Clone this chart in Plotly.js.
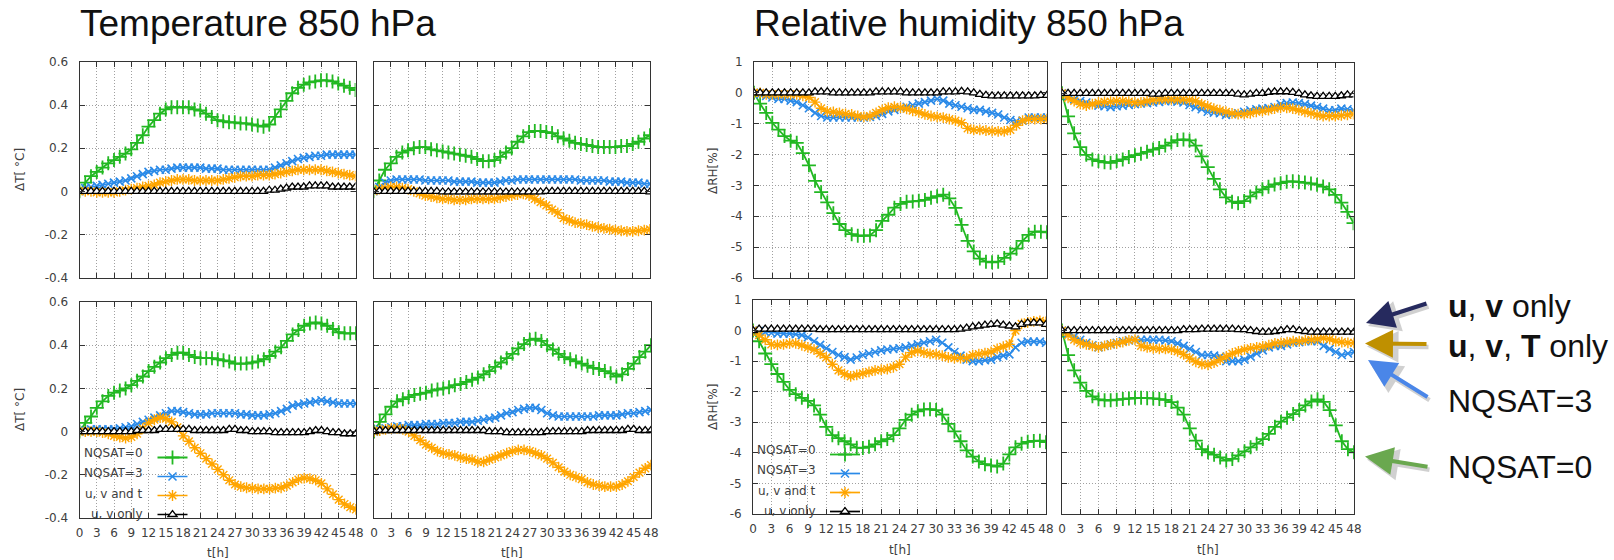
<!DOCTYPE html>
<html><head><meta charset="utf-8">
<script src="https://cdn.plot.ly/plotly-3.0.1.min.js"></script>
<style>html,body{margin:0;padding:0;background:#fff}#chart{width:1614px;height:560px}</style>
</head><body><div id="chart"></div><script>
const W = 1614, H = 560;

const hours = [0,1,2,3,4,5,6,7,8,9,10,11,12,13,14,15,16,17,18,19,20,21,22,23,24,25,26,27,28,29,30,31,32,33,34,35,36,37,38,39,40,41,42,43,44,45,46,47,48];
const xTickVals = [0,3,6,9,12,15,18,21,24,27,30,33,36,39,42,45,48];
const seriesNames = ['NQSAT=0','NQSAT=3','u, v and t','u, v only'];
const tempTickVals = [-0.4,-0.2,0,0.2,0.4,0.6];
const tempTickText = ['-0.4','-0.2','0','0.2','0.4','0.6'];
const rhTickVals = [-6,-5,-4,-3,-2,-1,0,1];
const rhTickText = ['-6','-5','-4','-3','-2','-1','0','1'];

// Temperature 850 hPa, top-left panel
const tempA_nq0 = [0,0.04,0.07,0.09,0.11,0.13,0.145,0.16,0.175,0.195,0.225,0.26,0.30,0.33,0.36,0.38,0.39,0.39,0.39,0.39,0.38,0.375,0.36,0.345,0.33,0.325,0.32,0.32,0.315,0.315,0.31,0.305,0.30,0.31,0.345,0.38,0.42,0.455,0.48,0.495,0.505,0.51,0.515,0.515,0.51,0.50,0.49,0.48,0.47];
const tempA_nq3 = [0,0.015,0.02,0.025,0.03,0.035,0.04,0.045,0.05,0.06,0.07,0.08,0.09,0.095,0.1,0.1,0.105,0.11,0.11,0.11,0.11,0.11,0.105,0.105,0.105,0.1,0.1,0.1,0.1,0.1,0.1,0.1,0.1,0.1,0.11,0.12,0.13,0.14,0.15,0.155,0.16,0.165,0.165,0.17,0.17,0.17,0.17,0.17,0.17];
const tempA_uvt = [0,0,0,-0.005,-0.005,-0.005,-0.005,0,0.005,0.01,0.015,0.02,0.025,0.03,0.04,0.045,0.05,0.055,0.055,0.055,0.05,0.05,0.05,0.05,0.05,0.055,0.06,0.065,0.07,0.07,0.07,0.075,0.075,0.075,0.08,0.085,0.09,0.095,0.1,0.1,0.1,0.1,0.1,0.095,0.09,0.085,0.08,0.075,0.07];
const tempA_uv  = [0,0,0,0,0,0,0,0,0,0,0,0,0,0,0,0,0,0,0,0,0,0,0,0,0,0,0,0,0,0,0,0,0,0.005,0.005,0.01,0.015,0.02,0.02,0.02,0.025,0.025,0.025,0.025,0.02,0.02,0.02,0.02,0.02];
// Temperature, top-right panel
const tempB_nq0 = [0,0.05,0.1,0.13,0.16,0.18,0.19,0.2,0.205,0.205,0.195,0.19,0.185,0.18,0.175,0.17,0.165,0.16,0.15,0.14,0.14,0.145,0.16,0.18,0.2,0.23,0.255,0.275,0.28,0.28,0.275,0.27,0.255,0.245,0.235,0.225,0.22,0.215,0.21,0.205,0.205,0.205,0.205,0.21,0.21,0.22,0.23,0.245,0.26];
const tempB_nq3 = [0,0.02,0.04,0.05,0.055,0.055,0.055,0.055,0.055,0.05,0.05,0.05,0.05,0.05,0.045,0.045,0.045,0.045,0.04,0.04,0.04,0.04,0.045,0.05,0.05,0.055,0.055,0.055,0.055,0.055,0.055,0.055,0.055,0.055,0.055,0.055,0.05,0.05,0.05,0.05,0.05,0.045,0.045,0.045,0.04,0.04,0.04,0.035,0.035];
const tempB_uvt = [0,0.01,0.015,0.02,0.02,0.015,0.01,0,-0.01,-0.02,-0.025,-0.03,-0.035,-0.035,-0.04,-0.04,-0.04,-0.035,-0.035,-0.035,-0.035,-0.035,-0.03,-0.025,-0.02,-0.015,-0.012,-0.02,-0.035,-0.05,-0.065,-0.085,-0.1,-0.125,-0.135,-0.145,-0.15,-0.155,-0.163,-0.168,-0.172,-0.176,-0.18,-0.183,-0.186,-0.186,-0.183,-0.18,-0.177];
const tempB_uv  = [0,0,0,0,0,0,0,0,0,0,0,0,-0.003,-0.003,-0.003,-0.003,-0.003,-0.003,-0.003,-0.003,-0.003,-0.003,-0.003,-0.003,-0.003,-0.003,-0.003,-0.003,-0.003,-0.003,0,0,0,0,0,0,0,0,0,0,0,0,0,0,0,0,0,0,-0.003];
// Temperature, bottom-left panel
const tempC_nq0 = [0,0.04,0.07,0.11,0.14,0.165,0.18,0.19,0.2,0.215,0.235,0.255,0.28,0.3,0.32,0.34,0.355,0.365,0.365,0.355,0.345,0.34,0.34,0.34,0.335,0.33,0.325,0.315,0.315,0.315,0.32,0.325,0.335,0.35,0.37,0.39,0.42,0.45,0.47,0.49,0.5,0.505,0.5,0.49,0.475,0.46,0.455,0.455,0.455];
const tempC_nq3 = [0,0.005,0.01,0.01,0.01,0.01,0.01,0.015,0.02,0.025,0.035,0.045,0.055,0.065,0.075,0.085,0.095,0.095,0.09,0.085,0.08,0.08,0.08,0.085,0.085,0.085,0.085,0.085,0.08,0.08,0.075,0.075,0.075,0.08,0.085,0.095,0.105,0.12,0.125,0.13,0.135,0.14,0.145,0.14,0.135,0.13,0.13,0.13,0.13];
const tempC_uvt = [0,0,0,0,-0.005,-0.01,-0.02,-0.025,-0.03,-0.025,-0.01,0.015,0.04,0.055,0.065,0.06,0.045,0.02,-0.02,-0.045,-0.075,-0.1,-0.125,-0.15,-0.175,-0.2,-0.225,-0.245,-0.255,-0.26,-0.262,-0.265,-0.265,-0.265,-0.262,-0.26,-0.25,-0.235,-0.222,-0.215,-0.218,-0.225,-0.24,-0.265,-0.29,-0.315,-0.335,-0.35,-0.36];
const tempC_uv  = [0,0,0,0,0,0,0,0,0,0,0.005,0.005,0.005,0.005,0.01,0.01,0.01,0.01,0.01,0.01,0.005,0.005,0.005,0.005,0.005,0.005,0.01,0.01,0.005,0.005,0,0,0,0,-0.005,-0.005,-0.005,-0.005,-0.005,-0.005,0,0.005,0.005,0,-0.005,-0.005,-0.01,-0.01,-0.01];
// Temperature, bottom-right panel
const tempD_nq0 = [0,0.045,0.08,0.115,0.14,0.15,0.16,0.17,0.175,0.18,0.19,0.195,0.2,0.205,0.215,0.22,0.23,0.24,0.25,0.265,0.28,0.3,0.32,0.34,0.36,0.385,0.405,0.425,0.43,0.42,0.4,0.38,0.36,0.345,0.335,0.325,0.315,0.305,0.295,0.29,0.28,0.27,0.255,0.265,0.29,0.315,0.345,0.37,0.4];
const tempD_nq3 = [0,0.01,0.015,0.02,0.025,0.025,0.03,0.03,0.03,0.035,0.035,0.035,0.04,0.04,0.04,0.045,0.045,0.045,0.05,0.055,0.06,0.065,0.075,0.085,0.09,0.1,0.105,0.11,0.11,0.1,0.085,0.075,0.07,0.07,0.07,0.07,0.07,0.07,0.07,0.075,0.075,0.075,0.075,0.08,0.085,0.085,0.09,0.095,0.1];
const tempD_uvt = [0,0.005,0.01,0.015,0.015,0.01,0,-0.02,-0.04,-0.06,-0.075,-0.09,-0.1,-0.105,-0.11,-0.12,-0.125,-0.13,-0.14,-0.14,-0.13,-0.12,-0.11,-0.1,-0.09,-0.085,-0.085,-0.09,-0.1,-0.11,-0.125,-0.145,-0.165,-0.185,-0.2,-0.21,-0.22,-0.235,-0.245,-0.25,-0.255,-0.255,-0.255,-0.245,-0.23,-0.21,-0.19,-0.17,-0.155];
const tempD_uv  = [0,0.005,0.005,0.005,0.005,0.005,0.005,0.005,0.005,0.005,0.005,0.005,0.005,0.005,0.005,0.005,0.005,0.005,0.005,0.005,0,0,0,-0.005,-0.005,-0.005,-0.005,-0.005,-0.005,-0.005,0,0,0,0,0,0,0,0.005,0.005,0.005,0.005,0.005,0.005,0.005,0.01,0.01,0.005,0.005,0.005];

// Relative humidity 850 hPa, top-left panel
const rhA_nq0 = [0,-0.35,-0.65,-0.97,-1.19,-1.4,-1.55,-1.62,-1.95,-2.35,-2.85,-3.22,-3.55,-3.9,-4.25,-4.45,-4.58,-4.63,-4.63,-4.62,-4.45,-4.15,-3.95,-3.72,-3.6,-3.53,-3.52,-3.5,-3.47,-3.4,-3.35,-3.3,-3.42,-3.73,-4.28,-4.8,-5.14,-5.37,-5.47,-5.49,-5.47,-5.35,-5.21,-5.05,-4.8,-4.6,-4.5,-4.5,-4.52];
const rhA_nq3 = [0,-0.05,-0.1,-0.15,-0.2,-0.2,-0.25,-0.3,-0.4,-0.5,-0.65,-0.75,-0.8,-0.8,-0.8,-0.8,-0.8,-0.8,-0.8,-0.78,-0.75,-0.68,-0.6,-0.55,-0.5,-0.45,-0.4,-0.35,-0.3,-0.25,-0.2,-0.25,-0.35,-0.4,-0.45,-0.5,-0.55,-0.55,-0.6,-0.65,-0.7,-0.8,-0.88,-0.92,-0.9,-0.8,-0.8,-0.8,-0.8];
const rhA_uvt = [0,0,-0.05,-0.05,-0.05,-0.05,-0.05,-0.05,-0.1,-0.15,-0.3,-0.5,-0.6,-0.62,-0.65,-0.68,-0.7,-0.75,-0.78,-0.75,-0.65,-0.55,-0.48,-0.45,-0.48,-0.52,-0.58,-0.63,-0.7,-0.75,-0.78,-0.8,-0.85,-0.9,-0.97,-1.15,-1.2,-1.2,-1.22,-1.24,-1.25,-1.25,-1.2,-1.05,-0.9,-0.85,-0.85,-0.85,-0.85];
const rhA_uv  = [0,0,0,0,0,0,0,0,0,0,0.03,0.03,0.03,0,0,0,0,0,0,0,0.03,0.03,0.03,0.03,0.03,0,0,0,0,0,0,0.03,0.03,0.03,0.05,0.03,0,-0.05,-0.08,-0.1,-0.1,-0.1,-0.1,-0.1,-0.1,-0.1,-0.1,-0.08,-0.08];
// Relative humidity, top-right panel
const rhB_nq0 = [0,-0.75,-1.3,-1.75,-2.0,-2.15,-2.2,-2.24,-2.26,-2.2,-2.15,-2.07,-2.01,-1.96,-1.9,-1.83,-1.78,-1.7,-1.6,-1.52,-1.5,-1.53,-1.7,-2.05,-2.4,-2.78,-3.12,-3.38,-3.52,-3.57,-3.5,-3.35,-3.22,-3.12,-3.04,-2.96,-2.92,-2.87,-2.86,-2.88,-2.9,-2.93,-2.97,-3.03,-3.12,-3.3,-3.55,-3.85,-4.22];
const rhB_nq3 = [0,-0.1,-0.2,-0.25,-0.3,-0.35,-0.4,-0.42,-0.45,-0.42,-0.4,-0.38,-0.35,-0.33,-0.32,-0.3,-0.28,-0.26,-0.25,-0.27,-0.3,-0.38,-0.45,-0.52,-0.6,-0.63,-0.65,-0.7,-0.68,-0.65,-0.6,-0.55,-0.52,-0.5,-0.48,-0.45,-0.35,-0.32,-0.3,-0.32,-0.35,-0.4,-0.45,-0.5,-0.55,-0.55,-0.5,-0.52,-0.55];
const rhB_uvt = [0,-0.15,-0.25,-0.35,-0.4,-0.35,-0.3,-0.28,-0.27,-0.25,-0.25,-0.27,-0.3,-0.3,-0.25,-0.22,-0.2,-0.2,-0.2,-0.2,-0.2,-0.22,-0.25,-0.35,-0.42,-0.5,-0.55,-0.6,-0.65,-0.68,-0.68,-0.65,-0.6,-0.58,-0.55,-0.5,-0.47,-0.47,-0.5,-0.55,-0.6,-0.65,-0.7,-0.74,-0.74,-0.74,-0.72,-0.7,-0.68];
const rhB_uv  = [0,0,0,0,0,0,0,0,0,0,0,0,0,0,0,-0.03,-0.03,0,0,0,0,0,0,0,0,0,0,0,0,-0.03,-0.05,-0.03,0,0,0.03,0.05,0.05,0.05,0.03,0,-0.05,-0.08,-0.1,-0.1,-0.1,-0.1,-0.08,-0.05,-0.05];
// Relative humidity, bottom-left panel
const rhC_nq0 = [0,-0.35,-0.75,-1.1,-1.42,-1.68,-1.94,-2.08,-2.2,-2.3,-2.45,-2.75,-3.15,-3.42,-3.52,-3.62,-3.72,-3.83,-3.84,-3.8,-3.72,-3.62,-3.55,-3.42,-3.2,-2.92,-2.75,-2.64,-2.58,-2.57,-2.6,-2.75,-3.05,-3.3,-3.62,-3.92,-4.12,-4.28,-4.37,-4.41,-4.45,-4.35,-4.05,-3.82,-3.7,-3.64,-3.61,-3.6,-3.65];
const rhC_nq3 = [0,-0.02,-0.05,-0.08,-0.1,-0.1,-0.1,-0.12,-0.15,-0.22,-0.35,-0.47,-0.58,-0.7,-0.8,-0.87,-0.95,-0.88,-0.8,-0.75,-0.7,-0.65,-0.62,-0.6,-0.58,-0.55,-0.5,-0.45,-0.4,-0.35,-0.3,-0.4,-0.55,-0.7,-0.82,-0.95,-1.0,-1.0,-0.97,-0.95,-0.87,-0.82,-0.78,-0.55,-0.4,-0.36,-0.36,-0.36,-0.4];
const rhC_uvt = [0,-0.15,-0.3,-0.45,-0.47,-0.45,-0.42,-0.42,-0.48,-0.55,-0.62,-0.75,-0.88,-1.1,-1.3,-1.42,-1.5,-1.45,-1.4,-1.35,-1.3,-1.28,-1.26,-1.2,-1.1,-0.87,-0.72,-0.66,-0.72,-0.76,-0.78,-0.82,-0.88,-0.9,-0.9,-0.9,-0.8,-0.77,-0.74,-0.7,-0.6,-0.53,-0.45,0,0.22,0.27,0.3,0.32,0.28];
const rhC_uv  = [0,0.05,0.05,0.05,0.05,0.05,0.05,0.05,0.05,0.05,0.05,0.03,0.03,0.03,0.03,0.03,0.03,0.03,0.03,0.03,0.03,0.03,0.03,0.03,0.03,0.03,0.03,0.03,0.03,0.03,0.03,0.03,0.03,0.03,0.05,0.08,0.12,0.15,0.18,0.2,0.22,0.18,0.15,0.12,0.2,0.25,0.25,0.25,0.2];
// Relative humidity, bottom-right panel
const rhD_nq0 = [0,-0.8,-1.3,-1.7,-1.97,-2.15,-2.25,-2.28,-2.28,-2.26,-2.24,-2.22,-2.2,-2.2,-2.21,-2.22,-2.24,-2.27,-2.34,-2.52,-2.75,-3.2,-3.6,-3.88,-3.98,-4.06,-4.15,-4.25,-4.2,-4.08,-3.95,-3.82,-3.7,-3.55,-3.38,-3.15,-2.98,-2.85,-2.73,-2.6,-2.45,-2.32,-2.25,-2.33,-2.6,-3.1,-3.62,-3.88,-3.98];
const rhD_nq3 = [0,-0.1,-0.2,-0.3,-0.4,-0.48,-0.55,-0.5,-0.45,-0.4,-0.35,-0.32,-0.3,-0.3,-0.3,-0.3,-0.3,-0.32,-0.35,-0.42,-0.5,-0.6,-0.7,-0.8,-0.8,-0.82,-0.85,-1.0,-1.0,-1.0,-0.95,-0.85,-0.75,-0.65,-0.55,-0.5,-0.5,-0.45,-0.4,-0.38,-0.35,-0.35,-0.35,-0.5,-0.6,-0.7,-0.8,-0.75,-0.7];
const rhD_uvt = [0,-0.15,-0.3,-0.4,-0.45,-0.5,-0.55,-0.5,-0.45,-0.42,-0.38,-0.32,-0.3,-0.5,-0.55,-0.58,-0.6,-0.6,-0.62,-0.68,-0.78,-0.9,-1.02,-1.1,-1.12,-1.05,-0.95,-0.85,-0.75,-0.68,-0.62,-0.58,-0.55,-0.52,-0.48,-0.42,-0.4,-0.38,-0.35,-0.35,-0.32,-0.3,-0.28,-0.25,-0.28,-0.35,-0.38,-0.4,-0.4];
const rhD_uv  = [0,0,0,0,0,0,0,0,0,0,0,0,0,0,0,0,0,0,0,0,0.03,0.03,0.03,0.05,0.05,0.05,0.05,0.05,0.05,0.03,0.03,0,-0.03,-0.05,-0.05,-0.03,0,0.03,0.03,0,-0.03,-0.05,-0.05,-0.05,-0.05,-0.05,-0.05,-0.05,-0.05];

const styles = [
  {color:'#22b822', symbol:'cross-thin', size:10, fill:null, lw:1.8, mlw:1.8},
  {color:'#2a8ae8', symbol:'x-thin', size:8, fill:null, lw:1.7, mlw:1.6},
  {color:'#ffa500', symbol:'asterisk', size:9, fill:null, lw:1.7, mlw:1.4},
  {color:'#000000', symbol:'triangle-up', size:8, fill:'#ffffff', lw:1.7, mlw:1.3}
];

const panels = [
  {vals:[tempA_nq0,tempA_nq3,tempA_uvt,tempA_uv], L:79.5, R:355.5, T:62, B:277.5, kind:'t', left:true,  bottom:false},
  {vals:[tempB_nq0,tempB_nq3,tempB_uvt,tempB_uv], L:373.5,R:650,   T:62, B:277.5, kind:'t', left:false, bottom:false},
  {vals:[tempC_nq0,tempC_nq3,tempC_uvt,tempC_uv], L:79.5, R:356,   T:302,B:518,   kind:'t', left:true,  bottom:true, legend:'legend'},
  {vals:[tempD_nq0,tempD_nq3,tempD_uvt,tempD_uv], L:374,  R:651,   T:302,B:518,   kind:'t', left:false, bottom:true},
  {vals:[rhA_nq0,rhA_nq3,rhA_uvt,rhA_uv], L:754,  R:1047,  T:62, B:278, kind:'rh', left:true,  bottom:false},
  {vals:[rhB_nq0,rhB_nq3,rhB_uvt,rhB_uv], L:1062, R:1353.5,T:62.5,B:278, kind:'rh', left:false, bottom:false},
  {vals:[rhC_nq0,rhC_nq3,rhC_uvt,rhC_uv], L:753,  R:1046,  T:300,B:514, kind:'rh', left:true,  bottom:true, legend:'legend2'},
  {vals:[rhD_nq0,rhD_nq3,rhD_uvt,rhD_uv], L:1062, R:1354,  T:300,B:514, kind:'rh', left:false, bottom:true}
];

const tickFont = {family:'DejaVu Sans', size:12, color:'#404040'};
const data = [];
const layout = {
  width: W, height: H, margin:{l:0,r:0,t:0,b:0},
  paper_bgcolor:'#ffffff', plot_bgcolor:'#ffffff',
  showlegend:true, annotations:[], shapes:[],
  font:{family:'DejaVu Sans', size:12, color:'#404040'}
};

panels.forEach((p, i) => {
  const n = i + 1;
  const xa = n === 1 ? 'x' : 'x' + n;
  const ya = n === 1 ? 'y' : 'y' + n;
  const xKey = n === 1 ? 'xaxis' : 'xaxis' + n;
  const yKey = n === 1 ? 'yaxis' : 'yaxis' + n;
  const common = {
    showline:true, linecolor:'#333333', linewidth:1, mirror:'ticks',
    ticks:'inside', ticklen:5, tickcolor:'#333333', tickwidth:1,
    showgrid:true, gridcolor:'#a0a0a0', gridwidth:1, griddash:'1px,2px',
    zeroline:false, tickfont:tickFont, fixedrange:true
  };
  layout[xKey] = Object.assign({}, common, {
    domain:[p.L/W, p.R/W], anchor:ya, range:[0,48],
    tickmode:'array', tickvals:xTickVals, ticktext:xTickVals.map(String),
    tickangle:0, showticklabels:p.bottom, ticklabelstandoff:4
  });
  layout[yKey] = Object.assign({}, common, {
    domain:[1 - p.B/H, 1 - p.T/H], anchor:xa,
    range: p.kind === 't' ? [-0.4,0.6] : [-6,1],
    tickmode:'array',
    tickvals: p.kind === 't' ? tempTickVals : rhTickVals,
    ticktext: p.kind === 't' ? tempTickText : rhTickText,
    showticklabels:p.left, ticklabelstandoff:8
  });
  p.vals.forEach((v, k) => {
    const s = styles[k];
    data.push({
      type:'scatter', mode:'lines+markers', x:hours, y:v, xaxis:xa, yaxis:ya,
      name: p.legend ? '' : seriesNames[k],
      showlegend: !!p.legend, legend: p.legend || 'legend',
      line:{color:s.color, width:s.lw},
      marker:{symbol:s.symbol, size:s.size, color:s.fill || s.color, line:{color:s.color, width:s.mlw}},
      cliponaxis:true, hoverinfo:'x+y'
    });
  });
});

const legendBase = {bgcolor:'rgba(0,0,0,0)', borderwidth:0, font:{family:'DejaVu Sans', size:12}, xanchor:'left', yanchor:'top', orientation:'v', itemclick:false, itemdoubleclick:false};
layout.legend = Object.assign({}, legendBase, {x:152.5/W, y:1-443/H});
layout.legend2 = Object.assign({}, legendBase, {x:825/W, y:1-440/H});

function ann(o){ layout.annotations.push(Object.assign({xref:'paper', yref:'paper', showarrow:false, xanchor:'center', yanchor:'middle'}, o)); }
const px = v => v / W, py = v => 1 - v / H;

// Section titles
ann({text:'Temperature 850 hPa', x:px(78), y:py(24), xanchor:'left', font:{family:'Liberation Sans', size:37, color:'#111'}});
ann({text:'Relative humidity 850 hPa', x:px(752), y:py(24), xanchor:'left', font:{family:'Liberation Sans', size:37, color:'#111'}});

// axis titles
const axFont = {family:'DejaVu Sans', size:12, color:'#404040'};
ann({text:'\u0394T[ \u00b0C]', x:px(20), y:py(170), textangle:-90, font:axFont});
ann({text:'\u0394T[ \u00b0C]', x:px(20), y:py(410), textangle:-90, font:axFont});
ann({text:'\u0394RH[%]', x:px(713), y:py(171), textangle:-90, font:axFont});
ann({text:'\u0394RH[%]', x:px(713), y:py(407), textangle:-90, font:axFont});
ann({text:'t[h]', x:px(218), y:py(553), font:axFont});
ann({text:'t[h]', x:px(512), y:py(553), font:axFont});
ann({text:'t[h]', x:px(900), y:py(550), font:axFont});
ann({text:'t[h]', x:px(1208), y:py(550), font:axFont});

// legend labels (text to the left of the samples, as in the original)
[452.5,473,493.5,514].forEach((yy,k)=>ann({text:seriesNames[k], x:px(145), y:py(yy), xanchor:'right', font:axFont}));
[449.5,470,490.5,511].forEach((yy,k)=>ann({text:seriesNames[k], x:px(818), y:py(yy), xanchor:'right', font:axFont}));

// callout arrows on the right
const arrows = [
  {tip:[1366,323], tail:[1428,303], color:'#262a5e'},
  {tip:[1365,343.5], tail:[1428,344], color:'#bf9000'},
  {tip:[1368,360], tail:[1429,398], color:'#4a86e8'},
  {tip:[1365,456.5], tail:[1429,467], color:'#6aa84f'}
];
arrows.forEach(a => {
  ann({text:'', x:px(a.tip[0]+2), y:py(a.tip[1]+3), ax:a.tail[0]-a.tip[0], ay:a.tail[1]-a.tip[1], showarrow:true,
       arrowcolor:'rgba(0,0,0,0.18)', arrowwidth:4.5, arrowhead:2, arrowsize:1.4, standoff:0, startstandoff:0});
  ann({text:'', x:px(a.tip[0]), y:py(a.tip[1]), ax:a.tail[0]-a.tip[0], ay:a.tail[1]-a.tip[1], showarrow:true,
       arrowcolor:a.color, arrowwidth:4, arrowhead:2, arrowsize:1.4, standoff:0, startstandoff:0});
});
const calloutFont = {family:'Liberation Sans', size:32, color:'#111'};
ann({text:'<b>u</b>, <b>v</b> only', x:px(1446), y:py(306), xanchor:'left', font:calloutFont});
ann({text:'<b>u</b>, <b>v</b>, <b>T</b> only', x:px(1446), y:py(346), xanchor:'left', font:calloutFont});
ann({text:'NQSAT=3', x:px(1446), y:py(401), xanchor:'left', font:calloutFont});
ann({text:'NQSAT=0', x:px(1446), y:py(467), xanchor:'left', font:calloutFont});

Plotly.newPlot('chart', data, layout, {staticPlot:true, displayModeBar:false});
</script></body></html>
